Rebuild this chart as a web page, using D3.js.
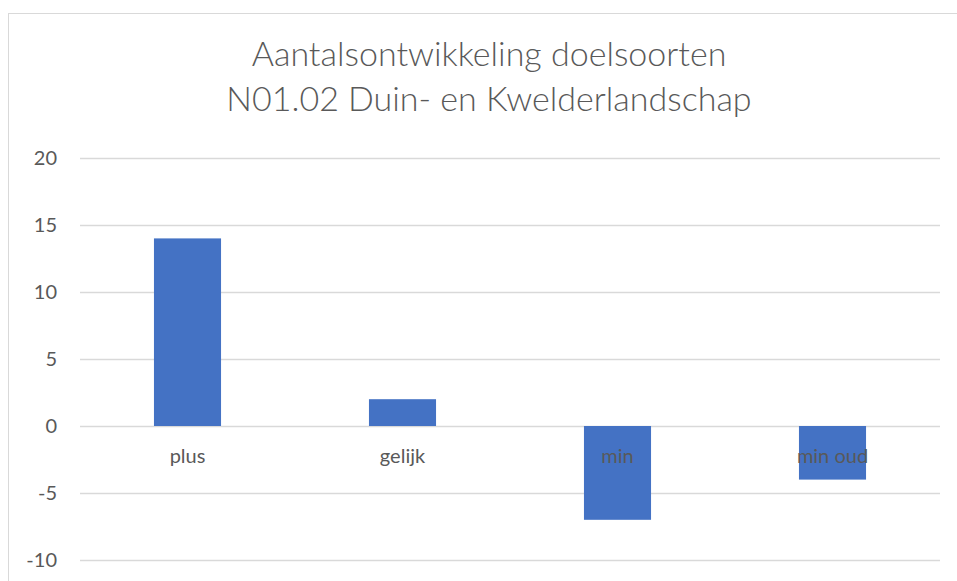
<!DOCTYPE html>
<html>
<head>
<meta charset="utf-8">
<script src="https://cdn.jsdelivr.net/npm/d3@7"></script>
<style>
  body { margin: 0; background: #fff; }
  text { font-family: Lato, "Open Sans", sans-serif; fill: #595959; }
</style>
</head>
<body>
<svg id="chart"></svg>
<script>
const categories = ["plus", "gelijk", "min", "min oud"];
const values = [14, 2, -7, -4];
const yTicks = [-10, -5, 0, 5, 10, 15, 20];
const titleLines = ["Aantalsontwikkeling doelsoorten", "N01.02 Duin- en Kwelderlandschap"];

const width = 957;
const height = 581;
const margin = { top: 158, right: 17, bottom: 21, left: 80 };

const svg = d3.select("#chart").attr("width", width).attr("height", height);

// chart area frame
svg.append("rect")
  .attr("x", 8.5).attr("y", 13.5)
  .attr("width", 960).attr("height", 600)
  .attr("fill", "#fff").attr("stroke", "#d9d9d9");

svg.selectAll(".title")
  .data(titleLines)
  .enter()
  .append("text")
  .attr("class", "title")
  .attr("x", 489)
  .attr("y", (d, i) => 58 + i * 45)
  .attr("text-anchor", "middle")
  .attr("dominant-baseline", "middle")
  .style("font-size", "34px")
  .style("font-weight", 300)
  .text((d) => d);

const x = d3.scaleBand()
  .domain(categories)
  .range([margin.left, width - margin.right])
  .paddingInner(0.688)
  .paddingOuter(0.344);

const y = d3.scaleLinear()
  .domain([-10, 20])
  .range([height - margin.bottom, margin.top]);

// gridlines
svg.append("g")
  .selectAll("line")
  .data(yTicks)
  .enter()
  .append("line")
  .attr("x1", margin.left)
  .attr("x2", width - margin.right)
  .attr("y1", (d) => Math.round(y(d)) + 0.5)
  .attr("y2", (d) => Math.round(y(d)) + 0.5)
  .attr("stroke", "#d9d9d9")
  .attr("stroke-width", 1.3);

const yAxis = d3.axisLeft(y)
  .tickValues(yTicks)
  .tickFormat((d) => String(d))
  .tickSize(0)
  .tickPadding(23);
const gy = svg.append("g")
  .attr("transform", `translate(${margin.left}, 0)`)
  .call(yAxis);
gy.select(".domain").remove();
gy.selectAll("text").style("font-size", "20px").attr("fill", "#595959");

svg.append("g")
  .selectAll("rect")
  .data(values)
  .enter()
  .append("rect")
  .attr("x", (d, i) => x(categories[i]))
  .attr("y", (d) => y(Math.max(0, d)))
  .attr("width", x.bandwidth())
  .attr("height", (d) => Math.abs(y(d) - y(0)))
  .attr("fill", "#4472c4");

svg.append("g")
  .selectAll("text")
  .data(categories)
  .enter()
  .append("text")
  .attr("x", (d) => x(d) + x.bandwidth() / 2)
  .attr("y", y(0) + 32)
  .attr("text-anchor", "middle")
  .attr("dominant-baseline", "middle")
  .style("font-size", "20px")
  .text((d) => d);
</script>
</body>
</html>
